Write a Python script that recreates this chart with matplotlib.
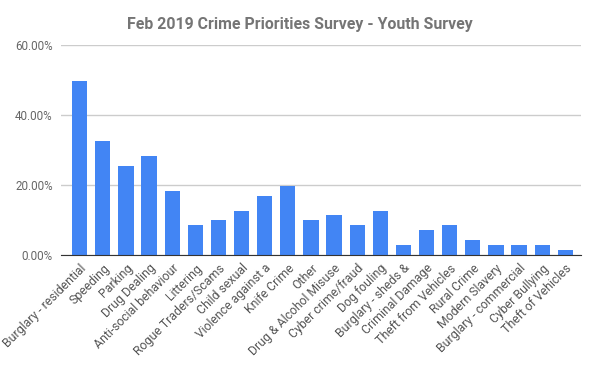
import matplotlib.pyplot as plt
from matplotlib.ticker import PercentFormatter

categories = [
    "Burglary - residential", "Speeding", "Parking", "Drug Dealing",
    "Anti-social behaviour", "Littering", "Rogue Traders/Scams", "Child sexual",
    "Violence against a", "Knife Crime", "Other", "Drug & Alcohol Misuse",
    "Cyber crime/fraud", "Dog fouling", "Burglary - sheds &", "Criminal Damage",
    "Theft from Vehicles", "Rural Crime", "Modern Slavery", "Burglary - commercial",
    "Cyber Bullying", "Theft of Vehicles",
]
values = [
    49.7, 32.6, 25.4, 28.3, 18.3, 8.6, 10.0, 12.6, 16.9, 19.7, 10.0, 11.4,
    8.6, 12.6, 2.9, 7.1, 8.6, 4.3, 2.9, 2.9, 2.9, 1.4,
]
yticks = [0, 20, 40, 60]

plt.rcParams['font.family'] = ['Roboto', 'DejaVu Sans']

fig = plt.figure(figsize=(6, 3.71), dpi=100)
ax = fig.add_axes([0.102, 0.313, 0.866, 0.566])

x = range(len(categories))
ax.bar(x, values, width=0.66, color='#4285f4', zorder=3)

ax.set_xlim(-0.8, len(categories) - 0.33)
ax.set_ylim(0, 60)
ax.set_yticks(yticks)
ax.yaxis.set_major_formatter(PercentFormatter(decimals=2))
ax.grid(axis='y', color='#cccccc', linewidth=1, zorder=0)

ax.set_xticks(list(x))
ax.set_xticklabels(categories, rotation=45, ha='right', rotation_mode='anchor',
                   fontsize=8.8, color='#555555')
ax.tick_params(axis='y', labelsize=8.4, labelcolor='#666666', length=0, pad=6)
ax.tick_params(axis='x', length=0, pad=5)

for side in ['top', 'right', 'left']:
    ax.spines[side].set_visible(False)
ax.spines['bottom'].set_color('#333333')
ax.spines['bottom'].set_zorder(4)

fig.text(0.5, 0.935, 'Feb 2019 Crime Priorities Survey - Youth Survey',
         ha='center', va='center', fontsize=11.4, fontweight='bold', color='#757575')

fig.savefig('out.png', dpi=100)
